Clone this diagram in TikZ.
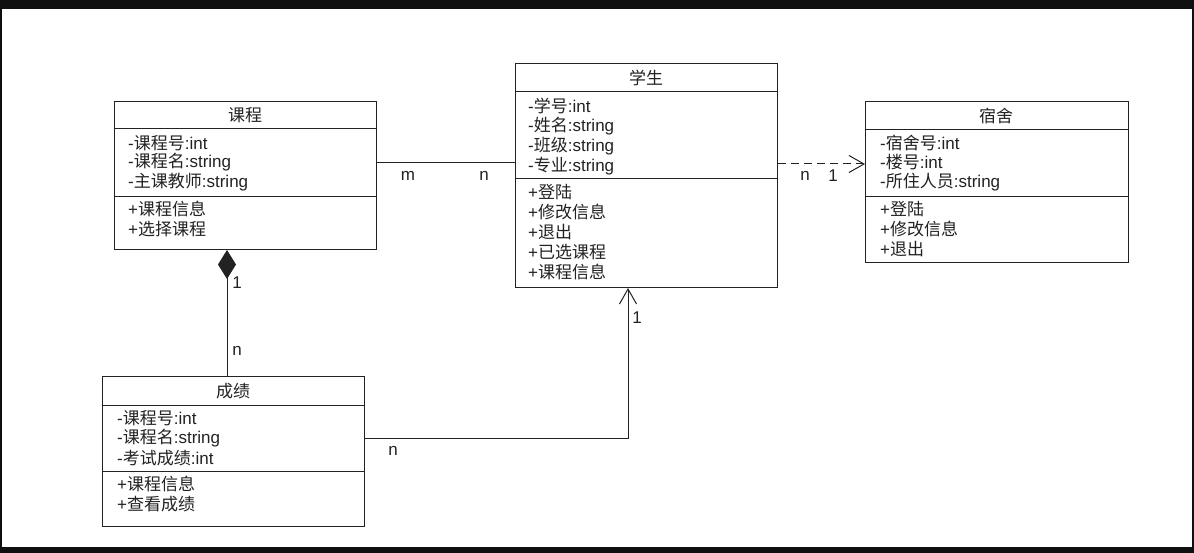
\documentclass[tikz,border=0pt]{standalone}
\usepackage{fontspec}
\setmainfont{Liberation Sans}
\newfontfamily\cjkfont{Noto Sans CJK SC}
\newcommand{\cn}[1]{{\cjkfont #1}}
\usetikzlibrary{arrows.meta}
\definecolor{frame}{HTML}{0F0F0F}
\definecolor{ink}{HTML}{222222}
\tikzset{
  umlbox/.style={draw=ink, line width=1pt, fill=white, anchor=north west, inner sep=0pt},
  divider/.style={draw=ink, line width=1pt},
  title/.style={inner sep=0pt, text=ink, font=\fontsize{17}{20}\selectfont},
  member/.style={anchor=west, inner sep=0pt, text=ink, font=\fontsize{17}{20}\selectfont},
  mult/.style={inner sep=0pt, text=ink, font=\fontsize{17}{20}\selectfont},
  link/.style={draw=ink, line width=1pt},
  openarrow/.style={-{Straight Barb[length=15pt,width=17pt,line width=1pt]}},
}
\begin{document}
\begin{tikzpicture}[x=1pt,y=-1pt]
\useasboundingbox (0,0) rectangle (1194,553);
\fill[frame] (0,0) rectangle (1194,553);
\fill[white] (1.5,9) rectangle (1192,547);

% class: 课程
\node[umlbox, minimum width=262pt, minimum height=148pt] (kc) at (114,101) {};
\draw[divider] (114,129) -- (376,129);
\draw[divider] (114,197) -- (376,197);
\node[title] (kct) at (245,115) {\cn{课程}};
\node[member] (kc1) at (128,143) {-\cn{课程号}:int};
\node[member] (kc2) at (128,162) {-\cn{课程名}:string};
\node[member] (kc3) at (128,182) {-\cn{主课教师}:string};
\node[member] (kc4) at (128,209) {+\cn{课程信息}};
\node[member] (kc5) at (128,229) {+\cn{选择课程}};

% class: 学生
\node[umlbox, minimum width=262pt, minimum height=224pt] (xs) at (515,63) {};
\draw[divider] (515,92) -- (777,92);
\draw[divider] (515,179) -- (777,179);
\node[title] (xst) at (646,78) {\cn{学生}};
\node[member] (xs1) at (528,106) {-\cn{学号}:int};
\node[member] (xs2) at (528,126) {-\cn{姓名}:string};
\node[member] (xs3) at (528,146) {-\cn{班级}:string};
\node[member] (xs4) at (528,166) {-\cn{专业}:string};
\node[member] (xs5) at (528,192) {+\cn{登陆}};
\node[member] (xs6) at (528,212) {+\cn{修改信息}};
\node[member] (xs7) at (528,232) {+\cn{退出}};
\node[member] (xs8) at (528,252) {+\cn{已选课程}};
\node[member] (xs9) at (528,272) {+\cn{课程信息}};

% class: 宿舍
\node[umlbox, minimum width=263pt, minimum height=161pt] (ss) at (865,101) {};
\draw[divider] (865,130) -- (1128,130);
\draw[divider] (865,197) -- (1128,197);
\node[title] (sst) at (996,116) {\cn{宿舍}};
\node[member] (ss1) at (880,143) {-\cn{宿舍号}:int};
\node[member] (ss2) at (880,162) {-\cn{楼号}:int};
\node[member] (ss3) at (880,182) {-\cn{所住人员}:string};
\node[member] (ss4) at (880,209) {+\cn{登陆}};
\node[member] (ss5) at (880,229) {+\cn{修改信息}};
\node[member] (ss6) at (880,249) {+\cn{退出}};

% class: 成绩
\node[umlbox, minimum width=262pt, minimum height=150pt] (cj) at (102,376) {};
\draw[divider] (102,405) -- (364,405);
\draw[divider] (102,471) -- (364,471);
\node[title] (cjt) at (233,391) {\cn{成绩}};
\node[member] (cj1) at (117,418) {-\cn{课程号}:int};
\node[member] (cj2) at (117,438) {-\cn{课程名}:string};
\node[member] (cj3) at (117,458) {-\cn{考试成绩}:int};
\node[member] (cj4) at (117,484) {+\cn{课程信息}};
\node[member] (cj5) at (117,504) {+\cn{查看成绩}};

% associations
\draw[link] (kc.east |- 0,163) -- (xs.west |- 0,163);
\node[mult] (m1) at (408,176) {m};
\node[mult] (m2) at (484,176) {n};

\draw[link, dash pattern=on 8pt off 5pt, openarrow] (xs.east |- 0,164) -- (ss.west |- 0,164);
\node[mult] (m3) at (805,176) {n};
\node[mult] (m4) at (833,176) {1};

\draw[link, {Diamond[length=29pt,width=18pt]}-] (kc.south -| 227,0) -- (cj.north -| 227,0);
\node[mult] (m5) at (237,283) {1};
\node[mult] (m6) at (237,351) {n};

\draw[link, openarrow] (cj.east |- 0,438) -| (xs.south -| 628,0);
\node[mult] (m7) at (393,451) {n};
\node[mult] (m8) at (637,318) {1};
\end{tikzpicture}
\end{document}
